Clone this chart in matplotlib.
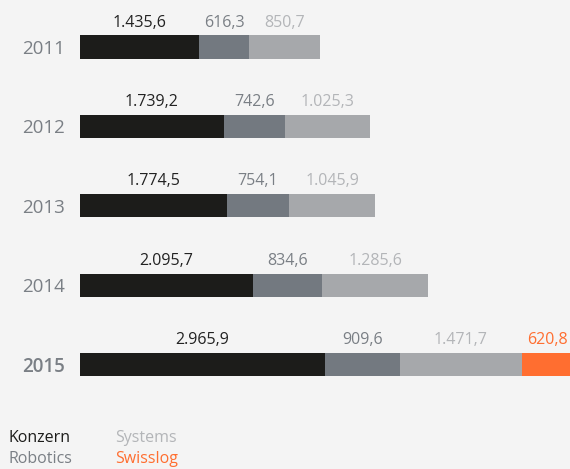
import matplotlib.pyplot as plt

plt.rcParams['font.family'] = ['Open Sans', 'DejaVu Sans']

# Umsatz nach Segment (Mio. EUR)
years = ['2011', '2012', '2013', '2014', '2015']
konzern = [1435.6, 1739.2, 1774.5, 2095.7, 2965.9]
robotics = [616.3, 742.6, 754.1, 834.6, 909.6]
systems = [850.7, 1025.3, 1045.9, 1285.6, 1471.7]
swisslog = [0, 0, 0, 0, 620.8]

series = [('Konzern', konzern, '#1c1c1a', '#222222'),
          ('Robotics', robotics, '#737980', '#7a7f85'),
          ('Systems', systems, '#a6a8ab', '#b3b5b8'),
          ('Swisslog', swisslog, '#ff6e30', '#ff6e30')]

bg = '#f4f4f4'


def fmt(v):
    s = '{:,.1f}'.format(v)
    return s.replace(',', 'X').replace('.', ',').replace('X', '.')


fig = plt.figure(figsize=(5.7, 4.69), dpi=100, facecolor=bg)
# axes from x=80px to right edge; y so that bars sit at the right rows
ax = fig.add_axes([80 / 570, 1 - 404.3 / 469, 490 / 570, 397 / 469])
ax.set_facecolor(bg)

ypos = list(range(len(years)))
left = [0] * len(years)
for name, vals, col, lcol in series:
    ax.barh(ypos, vals, left=left, height=0.29, color=col, linewidth=0)
    for y, l, v in zip(ypos, left, vals):
        if v > 0:
            ax.annotate(fmt(v), (l + v / 2, y - 0.145), xytext=(0, 3.5),
                        textcoords='offset points', ha='center', va='bottom',
                        fontsize=11.5, color=lcol)
    left = [a + b for a, b in zip(left, vals)]

ax.set_xlim(0, 5932)
ax.set_ylim(4.5, -0.5)
ax.set_yticks(ypos)
ax.set_yticklabels(years, fontsize=13.5, color='#7a7f85')
ax.get_yticklabels()[-1].set_fontweight('semibold')
ax.tick_params(axis='y', length=0, pad=11)
ax.set_xticks([])
for s in ax.spines.values():
    s.set_visible(False)

# legend as plain text
fig.text(8 / 570, 1 - 438 / 469, 'Konzern', color='#1c1c1a', fontsize=11.5, va='center')
fig.text(8 / 570, 1 - 459 / 469, 'Robotics', color='#7a7f85', fontsize=11.5, va='center')
fig.text(115 / 570, 1 - 438 / 469, 'Systems', color='#b3b5b8', fontsize=11.5, va='center')
fig.text(115 / 570, 1 - 459 / 469, 'Swisslog', color='#ff6e30', fontsize=11.5, va='center')

plt.savefig('out.png', dpi=100, facecolor=bg)
